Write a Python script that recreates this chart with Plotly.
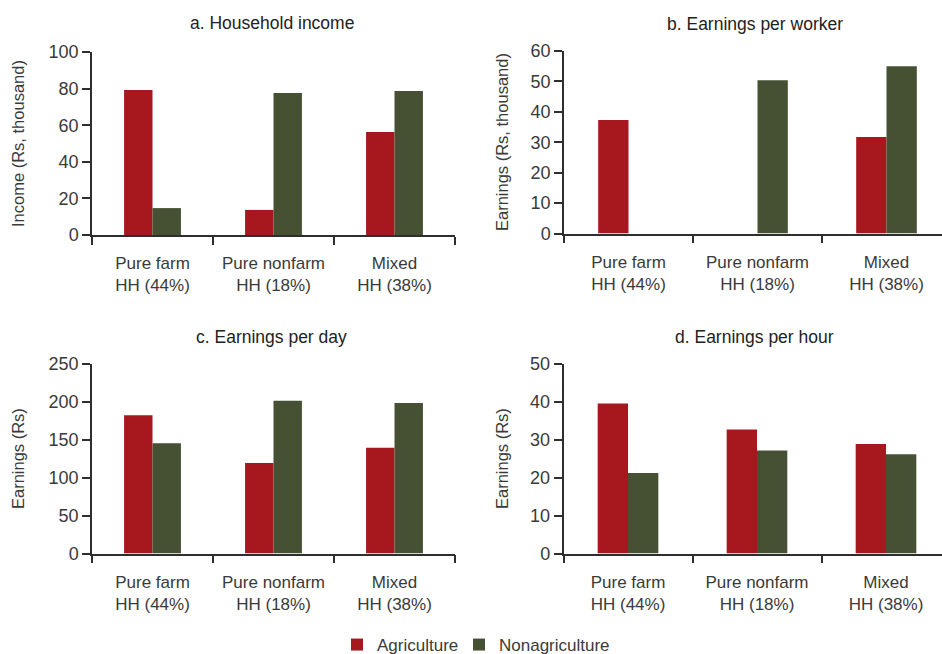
import plotly.graph_objects as go

# Household groups (x categories)
categories = ["Pure farm<br>HH (44%)", "Pure nonfarm<br>HH (18%)", "Mixed<br>HH (38%)"]

# a. Household income (Rs, thousand)
income_agri = [79.2, 13.7, 56.3]
income_nonagri = [14.7, 77.6, 78.7]

# b. Earnings per worker (Rs, thousand)
worker_agri = [37.3, None, 31.7]
worker_nonagri = [None, 50.4, 55.0]

# c. Earnings per day (Rs)
day_agri = [182, 119, 139]
day_nonagri = [145, 201, 198]

# d. Earnings per hour (Rs)
hour_agri = [39.5, 32.6, 28.8]
hour_nonagri = [21.2, 27.1, 26.1]

series_names = ["Agriculture", "Nonagriculture"]
panel_titles = ["a. Household income", "b. Earnings per worker",
                "c. Earnings per day", "d. Earnings per hour"]
y_titles = ["Income (Rs, thousand)", "Earnings (Rs, thousand)",
            "Earnings (Rs)", "Earnings (Rs)"]
y_max = [100, 60, 250, 50]
y_step = [20, 10, 50, 10]

RED = "#A6181E"
GREEN = "#465133"
AXIS = "#2e2e2e"
TEXT = "#3a3a3a"
FONT = "Liberation Sans, Arial, sans-serif"

W, H = 942, 654


def px_x(v):
    return v / W


def px_y(v):
    return 1 - v / H


panels = [
    dict(agri=income_agri, non=income_nonagri,
         xdom=[px_x(92), px_x(455)], ydom=[px_y(235), px_y(52)],
         xrange=[-0.5, 2.5], title_xy=(272, 23), ytitle_xy=(18, 144)),
    dict(agri=worker_agri, non=worker_nonagri,
         xdom=[px_x(564), 1.0], ydom=[px_y(233.5), px_y(51)],
         xrange=[-0.5, -0.5 + 378 / 129], title_xy=(755, 24), ytitle_xy=(502, 142)),
    dict(agri=day_agri, non=day_nonagri,
         xdom=[px_x(92), px_x(455)], ydom=[px_y(553.5), px_y(363.5)],
         xrange=[-0.5, 2.5], title_xy=(271, 337), ytitle_xy=(18, 459)),
    dict(agri=hour_agri, non=hour_nonagri,
         xdom=[px_x(563.5), 1.0], ydom=[px_y(553.5), px_y(363.5)],
         xrange=[-0.5, -0.5 + 378.5 / 129], title_xy=(754, 337), ytitle_xy=(502, 459)),
]

# one legend box per series, so each key sits at its own spot
legend_style = dict(orientation="h", xanchor="left", yanchor="middle", y=px_y(645),
                    font=dict(size=17, color=TEXT), bgcolor="rgba(0,0,0,0)")
legend_refs = ["legend", "legend2"]

fig = go.Figure()
layout = dict(
    width=W, height=H,
    margin=dict(l=0, r=0, t=0, b=0, autoexpand=False),
    paper_bgcolor="white", plot_bgcolor="white",
    barmode="group", bargap=0.53, bargroupgap=0,
    font=dict(family=FONT, size=17, color=TEXT),
    showlegend=True,
    legend=dict(x=px_x(337), **legend_style),
    legend2=dict(x=px_x(459), **legend_style),
    annotations=[],
)

for i, p in enumerate(panels):
    n = "" if i == 0 else str(i + 1)
    xa, ya = "x" + n, "y" + n
    for k, (name, vals, color) in enumerate(((series_names[0], p["agri"], RED),
                                             (series_names[1], p["non"], GREEN))):
        fig.add_trace(go.Bar(
            x=categories, y=vals, name=name, xaxis=xa, yaxis=ya,
            marker=dict(color=color, line=dict(width=0)),
            showlegend=(i == 0), legendgroup=name, legend=legend_refs[k],
        ))
    layout["xaxis" + n] = dict(
        domain=p["xdom"], anchor=ya, type="category",
        categoryorder="array", categoryarray=categories,
        range=p["xrange"], showline=True, linecolor=AXIS, linewidth=1.5,
        ticks="outside", tickson="boundaries", ticklen=8, tickcolor=AXIS, tickwidth=1.5,
        showgrid=False, zeroline=False, fixedrange=True, automargin=False,
        tickangle=0, ticklabelstandoff=12, tickfont=dict(size=17, color=TEXT),
    )
    layout["yaxis" + n] = dict(
        domain=p["ydom"], anchor=xa, range=[0, y_max[i]], dtick=y_step[i], tick0=0,
        showline=True, linecolor=AXIS, linewidth=1.5,
        ticks="outside", ticklen=8, tickcolor=AXIS, tickwidth=1.5,
        showgrid=False, zeroline=False, fixedrange=True, automargin=False,
        tickfont=dict(size=18, color=TEXT),
    )
    tx, ty = p["title_xy"]
    layout["annotations"].append(dict(
        text=panel_titles[i], xref="paper", yref="paper",
        x=px_x(tx), y=px_y(ty), xanchor="center", yanchor="middle",
        showarrow=False, font=dict(size=17.5, color="#222222"),
    ))
    yx, yy = p["ytitle_xy"]
    layout["annotations"].append(dict(
        text=y_titles[i], xref="paper", yref="paper",
        x=px_x(yx), y=px_y(yy), xanchor="center", yanchor="middle",
        textangle=-90, showarrow=False, font=dict(size=16.5, color=TEXT),
    ))

fig.update_layout(**layout)
fig.write_html("out.html")
